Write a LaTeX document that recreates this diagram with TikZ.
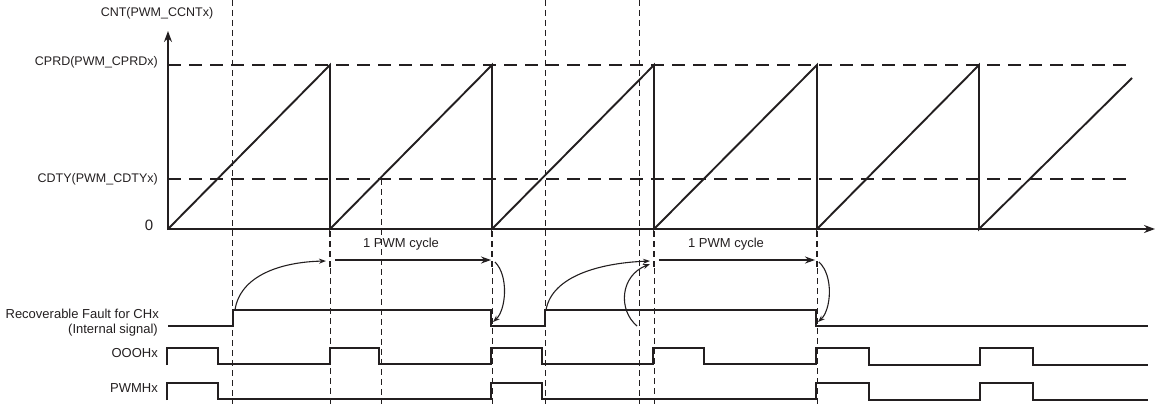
\documentclass[tikz,border=0pt]{standalone}
\usepackage{fontspec}
\setmainfont{Liberation Sans}
\usetikzlibrary{arrows.meta}
\definecolor{ink}{RGB}{35,31,32}
\begin{document}
\begin{tikzpicture}[x=1pt,y=-1pt,
  axis/.style={draw=ink,line width=2.2pt,-{Stealth[length=11pt,width=8pt]}},
  ramp/.style={draw=ink,line width=1.9pt},
  level/.style={draw=ink,line width=2.8pt,dash pattern=on 13pt off 8pt},
  guide/.style={draw=ink,line width=0.9pt,dash pattern=on 6pt off 4pt},
  marker/.style={draw=ink,line width=2.6pt,dash pattern=on 6pt off 4pt},
  sig/.style={draw=ink,line width=2.2pt,line join=miter},
  cyc/.style={draw=ink,line width=1.2pt,-{Stealth[length=10pt,width=7pt]}},
  curv/.style={draw=ink,line width=1.1pt,-{Stealth[length=7pt,width=5pt]}},
  lbl/.style={text=ink,font=\fontsize{12.5pt}{14pt}\selectfont,inner sep=0pt},
  slbl/.style={text=ink,font=\fontsize{13pt}{15pt}\selectfont,inner sep=0pt,align=right}]
\useasboundingbox (0,0) rectangle (1155,404);

% axes
\coordinate (O) at (168,229);
\coordinate (ytop) at (168,31);
\coordinate (xend) at (1155,229);
\draw[axis] (168,230) -- (ytop);
\draw[axis] (O) -- (xend);

% level lines
\draw[level] (168,65) -- (1133,65);
\draw[level] (168,179) -- (1133,179);

% sawtooth
\draw[ramp] (O) -- (330,65) -- (330,229) -- (492,65) -- (492,229) -- (654,65) -- (654,229)
  -- (817,65) -- (817,229) -- (979,65) -- (979,229) -- (1132,78);

% guides
\draw[guide] (232,0) -- (232,404);
\draw[guide] (381,179) -- (381,404);
\draw[guide] (545,0) -- (545,404);
\draw[guide] (639,0) -- (639,404);
\foreach \x in {330,492,654,817}{
  \draw[marker] (\x,231) -- (\x,268);
  \draw[guide] (\x,268) -- (\x,404);
}

% labels
\node[lbl] (cnt) at (157,13) {CNT(PWM\_CCNTx)};
\node[lbl,anchor=east] (cprd) at (158,62) {CPRD(PWM\_CPRDx)};
\node[lbl,anchor=east] (cdty) at (158,179) {CDTY(PWM\_CDTYx)};
\node[text=ink,font=\fontsize{15pt}{17pt}\selectfont,inner sep=0pt] (zero) at (149,225) {0};
\node[slbl,anchor=east] (rf1) at (159,314) {Recoverable Fault for CHx};
\node[slbl,anchor=east] (rf2) at (158,330) {(Internal signal)};
\node[slbl,anchor=east] (oooh) at (158,353) {OOOHx};
\node[slbl,anchor=east] (pwmh) at (158,388) {PWMHx};
\node[slbl] (c1) at (401,244) {1 PWM cycle};
\node[slbl] (c2) at (726,244) {1 PWM cycle};

% signals
\draw[sig] (168,326) -- (233,326) -- (233,310) -- (491,310) -- (491,326) -- (545,326) -- (545,310)
  -- (816,310) -- (816,326) -- (1148,326);
\draw[sig] (167,365) -- (167,348) -- (218,348) -- (218,364) -- (330,364) -- (330,348) -- (379,348)
  -- (379,364) -- (491,364) -- (491,348) -- (542,348) -- (542,364) -- (653,364) -- (653,348)
  -- (704,348) -- (704,364) -- (816,364) -- (816,348) -- (869,348) -- (869,365) -- (980,365)
  -- (980,348) -- (1033,348) -- (1033,365) -- (1148,365);
\draw[sig] (167,400) -- (167,383) -- (218,383) -- (218,399) -- (491,399) -- (491,383) -- (542,383)
  -- (542,399) -- (816,399) -- (816,383) -- (869,383) -- (869,400) -- (980,400) -- (980,383)
  -- (1033,383) -- (1033,400) -- (1148,400);

% arrow anchor points
\coordinate (a1s) at (335,260);
\coordinate (a1e) at (491,260);
\coordinate (a2s) at (659,260);
\coordinate (a2e) at (815,260);
\coordinate (f1) at (235,310);
\coordinate (p1) at (326,261);
\coordinate (q1) at (495,262);
\coordinate (r1) at (493,322);
\coordinate (f2) at (546,310);
\coordinate (p2) at (650,261);
\coordinate (g2) at (637,326);
\coordinate (p2b) at (650,264);
\coordinate (q2) at (819,262);
\coordinate (r2) at (818,322);

\draw[cyc] (a1s) -- (a1e);
\draw[cyc] (a2s) -- (a2e);
\draw[curv] (f1) .. controls (240,276) and (280,262) .. (p1);
\draw[curv] (q1) .. controls (509,276) and (506,310) .. (r1);
\draw[curv] (f2) .. controls (552,276) and (600,263) .. (p2);
\draw[curv] (g2) .. controls (618,310) and (620,276) .. (p2b);
\draw[curv] (q2) .. controls (834,276) and (831,310) .. (r2);
\end{tikzpicture}
\end{document}
